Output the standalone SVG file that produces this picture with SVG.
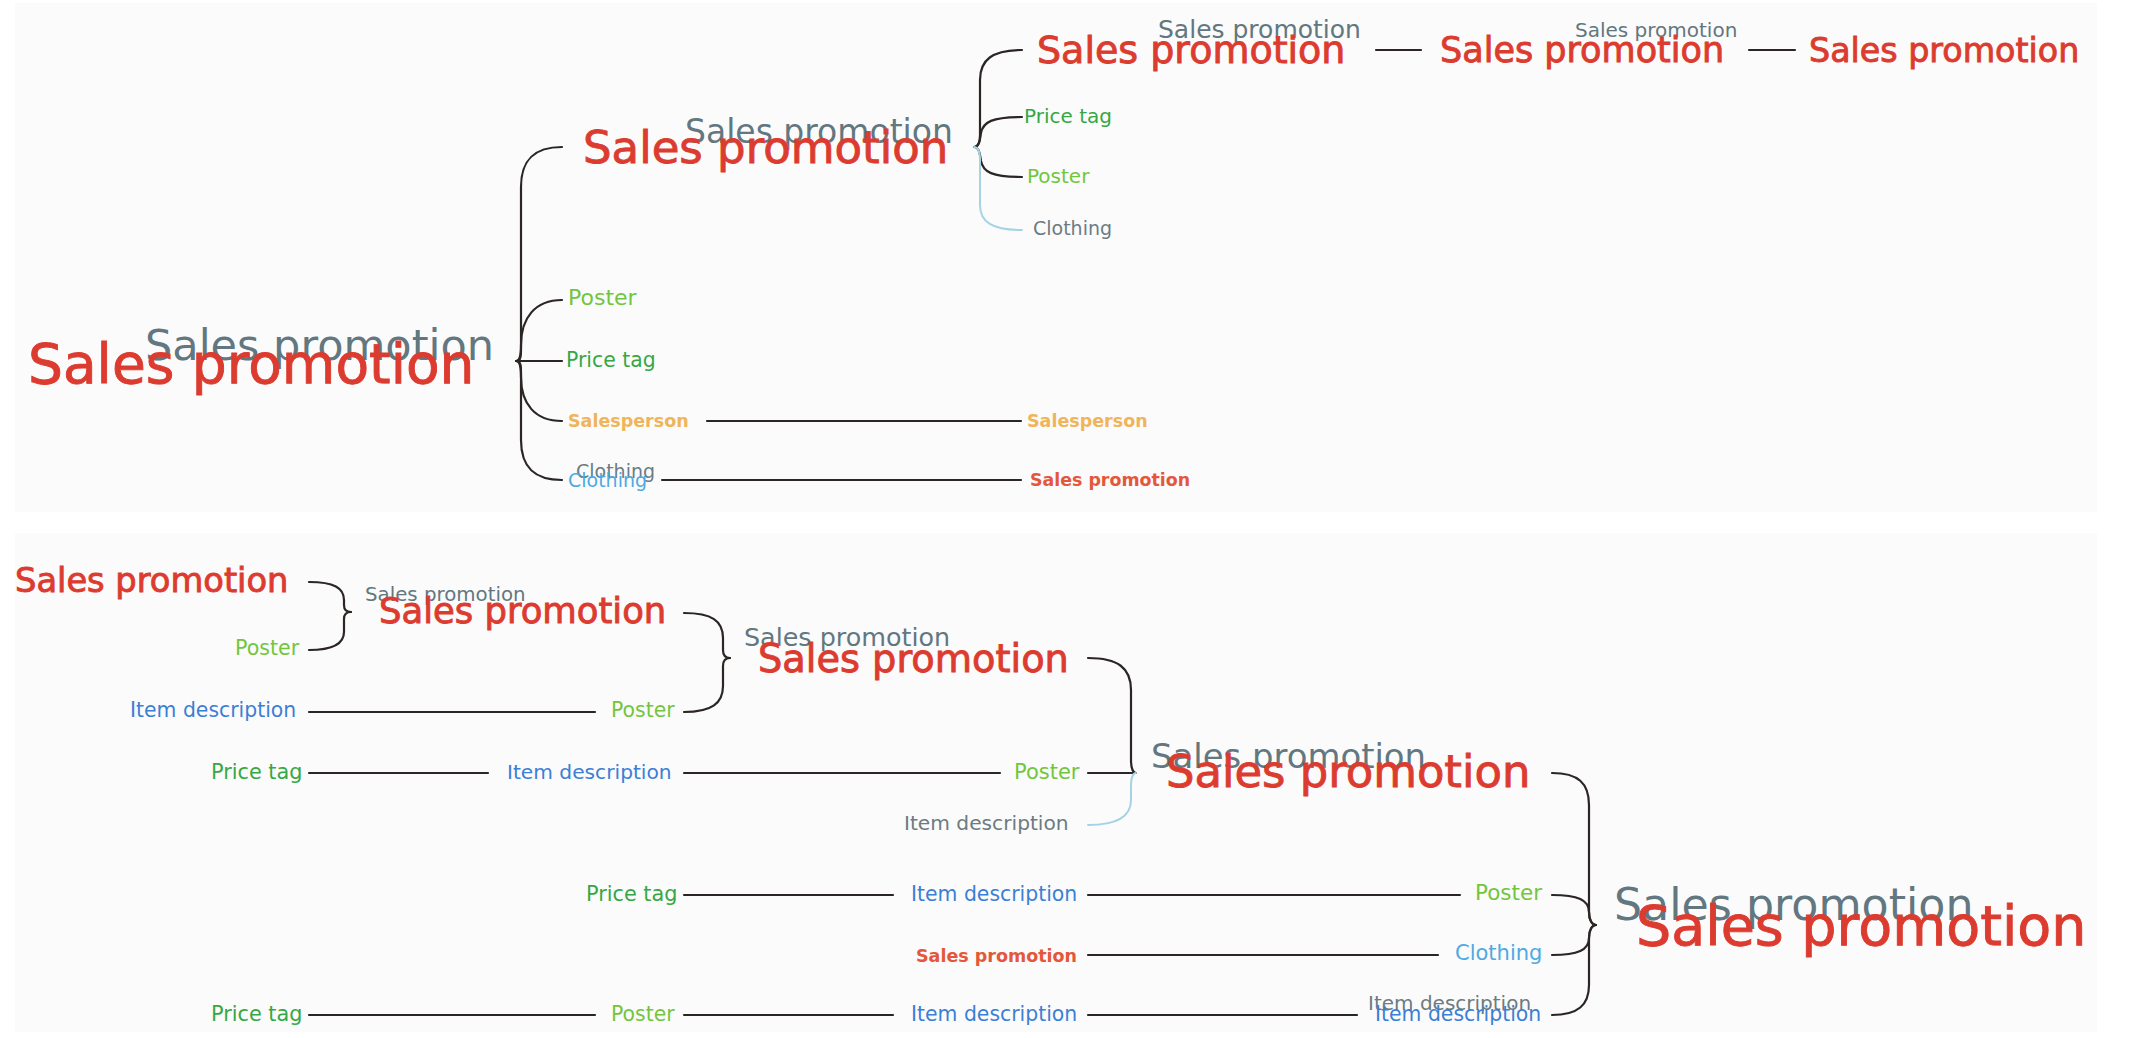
<svg xmlns="http://www.w3.org/2000/svg" width="2154" height="1038" viewBox="0 0 2154 1038">
<style>
text{font-family:"DejaVu Sans","Verdana",sans-serif;}
.red{fill:#dc3b2f;stroke:#dc3b2f;stroke-width:0.9;}
.gray{fill:#62777f;}
.green{fill:#35a845;}
.lime{fill:#72c63c;}
.blue{fill:#3b7fd6;}
.lblue{fill:#4fa9e2;}
.dgray{fill:#6c7b82;}
.orange{fill:#f0b45a;font-weight:bold;}
.sred{fill:#e5573a;font-weight:bold;}
.panel{fill:#fbfbfb;}
.c{fill:none;stroke:#2b2624;stroke-width:2.2;stroke-linecap:round;}
.cl{fill:none;stroke:#a6d3e3;stroke-width:2;stroke-linecap:round;}
</style>
<rect width="2154" height="1038" fill="#ffffff"/>
<rect class="panel" x="15" y="3" width="2082" height="509"/>
<rect class="panel" x="15" y="533" width="2082" height="499"/>

<g id="connectors">
  <path class="c" d="M516 361 C520 361 521 358 521 350 L521 187 C521 159 535 147 562 147"/>
  <path class="c" d="M516 361 C520 361 521 356 521 345 C521 318 535 300 562 300"/>
  <path class="c" d="M516 361 L562 361"/>
  <path class="c" d="M516 361 C520 361 521 366 521 377 C521 404 535 421 562 421"/>
  <path class="c" d="M516 361 C520 361 521 364 521 372 L521 440 C521 468 535 480 562 480"/>
  <path class="c" d="M707 421 L1021 421"/>
  <path class="c" d="M662 480 L1021 480"/>
  <path class="c" d="M974 147 C978 147 980 143 980 135 L980 80 C980 60 992 50 1022 50"/>
  <path class="c" d="M974 147 C979 147 980 140 981 133 C983 122 992 117 1022 117"/>
  <path class="c" d="M974 147 C979 147 980 154 981 161 C983 172 992 177 1022 177"/>
  <path class="cl" d="M974 147 C978 147 980 152 980 160 L980 205 C980 222 992 230 1022 230"/>
  <path class="c" d="M1376 50 L1421 50"/>
  <path class="c" d="M1749 50 L1795 50"/>
  <path class="c" d="M309 582 C334 582 344 588 344 600 L344 605 C344 610 347 612 351 612"/>
  <path class="c" d="M309 650 C334 650 344 643 344 632 L344 619 C344 614 347 612 351 612"/>
  <path class="c" d="M684 613 C712 613 723 621 723 638 L723 650 C723 656 726 658 730 658"/>
  <path class="c" d="M684 712 C712 712 723 703 723 686 L723 666 C723 660 726 658 730 658"/>
  <path class="c" d="M309 712 L595 712"/>
  <path class="c" d="M309 773 L488 773"/>
  <path class="c" d="M684 773 L1000 773"/>
  <path class="c" d="M1088 658 C1118 658 1131 668 1131 690 L1131 760 C1131 768 1133 773 1136 773"/>
  <path class="c" d="M1088 773 L1136 773"/>
  <path class="cl" d="M1136 773 C1133 773 1131 778 1131 786 L1131 800 C1131 816 1118 825 1088 825"/>
  <path class="c" d="M1552 773 C1578 773 1589 783 1589 805 L1589 912 C1589 920 1592 925 1596 925"/>
  <path class="c" d="M1552 895 C1578 895 1589 900 1589 912 C1589 920 1592 925 1596 925"/>
  <path class="c" d="M1552 955 C1578 955 1589 950 1589 938 C1589 930 1592 925 1596 925"/>
  <path class="c" d="M1552 1015 C1578 1015 1589 1005 1589 985 L1589 938 C1589 930 1592 925 1596 925"/>
  <path class="c" d="M684 895 L893 895"/>
  <path class="c" d="M1088 895 L1460 895"/>
  <path class="c" d="M1088 955 L1438 955"/>
  <path class="c" d="M309 1015 L595 1015"/>
  <path class="c" d="M684 1015 L893 1015"/>
  <path class="c" d="M1088 1015 L1357 1015"/>
</g>

<g id="root-top-gray"><text class="gray" x="145" y="360" font-size="43">Sales promotion</text></g>
<g id="root-top"><text class="red" x="28" y="383" font-size="55">Sales promotion</text></g>
<g id="l1-gray"><text class="gray" x="685" y="143" font-size="33">Sales promotion</text></g>
<g id="l1"><text class="red" x="583" y="163" font-size="45">Sales promotion</text></g>
<g id="l2a-gray"><text class="gray" x="1158" y="38" font-size="25">Sales promotion</text></g>
<g id="l2a"><text class="red" x="1037" y="63" font-size="38">Sales promotion</text></g>
<g id="l2b-gray"><text class="gray" x="1575" y="37" font-size="20">Sales promotion</text></g>
<g id="l2b"><text class="red" x="1440" y="62" font-size="35">Sales promotion</text></g>
<g id="l2c"><text class="red" x="1809" y="62" font-size="33.3">Sales promotion</text></g>
<g id="l1-pricetag"><text class="green" x="1024" y="123" font-size="20">Price tag</text></g>
<g id="l1-poster"><text class="lime" x="1027" y="183" font-size="20">Poster</text></g>
<g id="l1-clothing"><text class="dgray" x="1033" y="235" font-size="19">Clothing</text></g>
<g id="r-poster"><text class="lime" x="568" y="305" font-size="22">Poster</text></g>
<g id="r-pricetag"><text class="green" x="566" y="367" font-size="20.4">Price tag</text></g>
<g id="r-salesperson"><text class="orange" x="568" y="427" font-size="17.5">Salesperson</text></g>
<g id="r-salesperson2"><text class="orange" x="1027" y="427" font-size="17.5">Salesperson</text></g>
<g id="r-clothing-gray"><text class="dgray" x="576" y="478" font-size="19">Clothing</text></g>
<g id="r-clothing"><text class="lblue" x="568" y="487" font-size="19">Clothing</text></g>
<g id="r-salespromo-small"><text class="sred" x="1030" y="486" font-size="17.4">Sales promotion</text></g>

<g id="b-sp1"><text class="red" x="15" y="592" font-size="33.7">Sales promotion</text></g>
<g id="b-poster1"><text class="lime" x="235" y="655" font-size="20.6">Poster</text></g>
<g id="b-l2-gray"><text class="gray" x="365" y="601" font-size="19.8">Sales promotion</text></g>
<g id="b-l2"><text class="red" x="379" y="623" font-size="35.4">Sales promotion</text></g>
<g id="b-itemdesc1"><text class="blue" x="130" y="717" font-size="20.4">Item description</text></g>
<g id="b-poster2"><text class="lime" x="611" y="717" font-size="20.4">Poster</text></g>
<g id="b-l3-gray"><text class="gray" x="744" y="646" font-size="25.4">Sales promotion</text></g>
<g id="b-l3"><text class="red" x="758" y="672" font-size="38.3">Sales promotion</text></g>
<g id="b-pricetag1"><text class="green" x="211" y="779" font-size="20.8">Price tag</text></g>
<g id="b-itemdesc2"><text class="blue" x="507" y="779" font-size="20.2">Item description</text></g>
<g id="b-poster3"><text class="lime" x="1014" y="779" font-size="21">Poster</text></g>
<g id="b-itemdesc-gray"><text class="dgray" x="904" y="830" font-size="20.2">Item description</text></g>
<g id="b-l4-gray"><text class="gray" x="1151" y="768" font-size="33.9">Sales promotion</text></g>
<g id="b-l4"><text class="red" x="1166" y="787" font-size="44.9">Sales promotion</text></g>
<g id="b-pricetag2"><text class="green" x="586" y="901" font-size="20.8">Price tag</text></g>
<g id="b-itemdesc3"><text class="blue" x="911" y="901" font-size="20.4">Item description</text></g>
<g id="b-poster4"><text class="lime" x="1475" y="900" font-size="21.5">Poster</text></g>
<g id="b-salespromo-small"><text class="sred" x="916" y="962" font-size="17.5">Sales promotion</text></g>
<g id="b-clothing"><text class="lblue" x="1455" y="960" font-size="21">Clothing</text></g>
<g id="b-pricetag3"><text class="green" x="211" y="1021" font-size="20.8">Price tag</text></g>
<g id="b-poster5"><text class="lime" x="611" y="1021" font-size="20.4">Poster</text></g>
<g id="b-itemdesc4"><text class="blue" x="911" y="1021" font-size="20.4">Item description</text></g>
<g id="b-itemdesc5-gray"><text class="dgray" x="1368" y="1010" font-size="20">Item description</text></g>
<g id="b-itemdesc5"><text class="blue" x="1375" y="1021" font-size="20.4">Item description</text></g>
<g id="b-root-gray"><text class="gray" x="1614" y="920" font-size="44.3">Sales promotion</text></g>
<g id="b-root"><text class="red" x="1636" y="945" font-size="55.5">Sales promotion</text></g>
</svg>
